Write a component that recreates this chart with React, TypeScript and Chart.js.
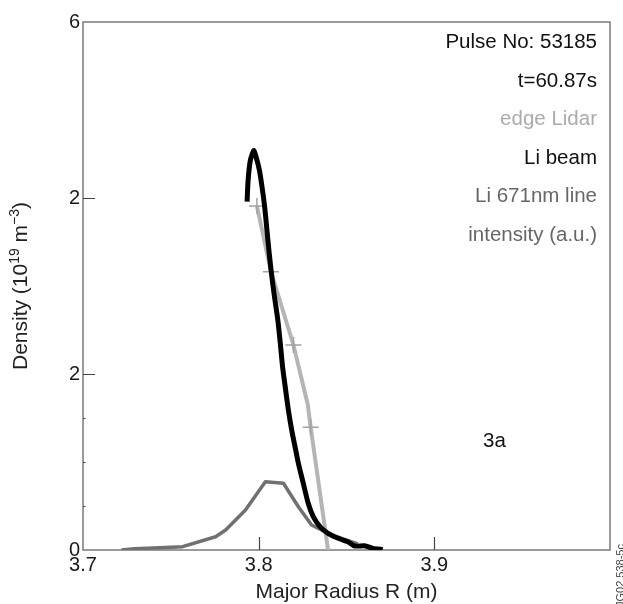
import { useEffect, useRef } from 'react';
import { Chart, registerables } from 'chart.js';

Chart.register(...registerables);

const FONT = '"Liberation Sans", Arial, Helvetica, sans-serif';

// Li beam density profile (black)
const liBeamR = [3.7934, 3.794, 3.7953, 3.7972, 3.7985, 3.8004, 3.8019, 3.8034, 3.8047, 3.806, 3.8075, 3.809, 3.8109, 3.8123, 3.8136, 3.8151, 3.8169, 3.8188, 3.8207, 3.8226, 3.8254, 3.8282, 3.8311, 3.8349, 3.8395, 3.8452, 3.8508, 3.8546, 3.8603, 3.865, 3.8706];
const liBeamD = [3.958, 4.205, 4.432, 4.538, 4.469, 4.318, 4.128, 3.901, 3.636, 3.372, 3.106, 2.878, 2.614, 2.352, 2.083, 1.856, 1.591, 1.364, 1.174, 0.985, 0.758, 0.531, 0.378, 0.265, 0.19, 0.133, 0.094, 0.045, 0.049, 0.019, 0.005];

// Edge Lidar profile (light grey) with measurement markers
const lidarR = [3.799, 3.807, 3.8198, 3.828, 3.8296, 3.8395];
const lidarD = [3.909, 3.163, 2.33, 1.648, 1.394, 0.0];
const lidarMarker = [true, true, true, false, true, false];

// Li 671nm line intensity (dark grey, a.u.)
const lineR = [3.7219, 3.7294, 3.7435, 3.7567, 3.7755, 3.7812, 3.7925, 3.8038, 3.8141, 3.8226, 3.8301, 3.8395, 3.848, 3.8565];
const lineD = [0.0, 0.015, 0.026, 0.038, 0.151, 0.227, 0.455, 0.776, 0.758, 0.492, 0.284, 0.19, 0.125, 0.068];

const xTicks = [3.7, 3.8, 3.9];
const xTickLabels = ['3.7', '3.8', '3.9'];
const yTicks = [0, 2, 4, 6];
const yTickLabels = ['0', '2', '2', '6'];
const yMinorTicks = [0.5, 1, 1.5];

const legendTexts = ['Pulse No: 53185', 't=60.87s', 'edge Lidar', 'Li beam', 'Li 671nm line', 'intensity (a.u.)'];
const legendColors = ['#111', '#111', '#ababab', '#111', '#666', '#666'];

const frame = {
  id: 'frame',
  beforeDatasetsDraw(chart: any) {
    const { ctx, chartArea: a, scales } = chart;
    const x = scales.x;
    const y = scales.y;
    ctx.save();
    ctx.strokeStyle = '#7a7a7a';
    ctx.lineWidth = 1.5;
    ctx.strokeRect(a.left, a.top, a.right - a.left, a.bottom - a.top);
    ctx.strokeStyle = '#444';
    ctx.lineWidth = 1.2;
    ctx.beginPath();
    xTicks.forEach((v) => {
      if (v === x.min) return;
      const px = Math.round(x.getPixelForValue(v)) + 0.5;
      ctx.moveTo(px, a.bottom);
      ctx.lineTo(px, a.bottom - 13);
    });
    yTicks.forEach((v) => {
      if (v === y.min || v === y.max) return;
      const py = Math.round(y.getPixelForValue(v)) + 0.5;
      ctx.moveTo(a.left, py);
      ctx.lineTo(a.left + 12, py);
    });
    yMinorTicks.forEach((v) => {
      const py = Math.round(y.getPixelForValue(v)) + 0.5;
      ctx.moveTo(a.left, py);
      ctx.lineTo(a.left + 2.5, py);
    });
    ctx.stroke();
    ctx.restore();
  },
  afterDraw(chart: any) {
    const { ctx, chartArea: a } = chart;
    ctx.save();
    // legend / annotation block
    ctx.font = `20.5px ${FONT}`;
    ctx.textAlign = 'right';
    ctx.textBaseline = 'alphabetic';
    legendTexts.forEach((t, i) => {
      ctx.fillStyle = legendColors[i];
      ctx.fillText(t, 597, 48 + i * 38.5);
    });
    // panel label
    ctx.textAlign = 'left';
    ctx.fillStyle = '#111';
    ctx.fillText('3a', 483, 447);
    // x axis title
    ctx.font = `21px ${FONT}`;
    ctx.textAlign = 'center';
    ctx.fillStyle = '#222';
    ctx.fillText('Major Radius R (m)', (a.left + a.right) / 2, 598);
    // y axis title with superscripts
    const parts: [string, boolean][] = [
      ['Density (10', false],
      ['19', true],
      [' m', false],
      ['\u22123', true],
      [')', false],
    ];
    const big = `21px ${FONT}`;
    const small = `14px ${FONT}`;
    let total = 0;
    parts.forEach(([t, sup]) => {
      ctx.font = sup ? small : big;
      total += ctx.measureText(t).width;
    });
    ctx.translate(27, (a.top + a.bottom) / 2);
    ctx.rotate(-Math.PI / 2);
    ctx.textAlign = 'left';
    let cx = -total / 2;
    parts.forEach(([t, sup]) => {
      ctx.font = sup ? small : big;
      ctx.fillText(t, cx, sup ? -8 : 0);
      cx += ctx.measureText(t).width;
    });
    ctx.restore();
    // figure code
    ctx.save();
    ctx.translate(624, 607);
    ctx.rotate(-Math.PI / 2);
    ctx.font = `11px ${FONT}`;
    ctx.fillStyle = '#444';
    ctx.textAlign = 'left';
    ctx.fillText('JG02.538-5c', 0, 0);
    ctx.restore();
  },
};

export default function App() {
  const ref = useRef<HTMLCanvasElement | null>(null);
  useEffect(() => {
    if (!ref.current) return;
    const chart = new Chart(ref.current, {
      type: 'scatter',
      data: {
        datasets: [
          {
            data: liBeamR.map((r, i) => ({ x: r, y: liBeamD[i] })),
            showLine: true,
            borderColor: '#000',
            borderWidth: 5,
            pointRadius: 0,
            tension: 0.2,
            borderJoinStyle: 'round',
          },
          {
            data: lidarR.map((r, i) => ({ x: r, y: lidarD[i] })),
            showLine: true,
            borderColor: '#b5b5b5',
            borderWidth: 4,
            pointStyle: 'cross',
            pointRadius: lidarMarker.map((m) => (m ? 8 : 0)),
            pointBorderColor: '#a3a3a3',
            pointBorderWidth: 1.5,
            pointBackgroundColor: '#a3a3a3',
            tension: 0,
          },
          {
            data: lineR.map((r, i) => ({ x: r, y: lineD[i] })),
            showLine: true,
            borderColor: '#707070',
            borderWidth: 3.5,
            pointRadius: 0,
            tension: 0,
            borderJoinStyle: 'round',
          },
        ],
      } as any,
      options: {
        animation: false,
        responsive: false,
        events: [],
        layout: { padding: { top: 22, right: 13, left: 0, bottom: 0 } },
        plugins: { legend: { display: false }, tooltip: { enabled: false } },
        scales: {
          x: {
            type: 'linear',
            min: 3.7,
            max: 4.0,
            afterBuildTicks: (s: any) => {
              s.ticks = xTicks.map((v) => ({ value: v }));
            },
            afterFit: (s: any) => {
              s.height = 54;
            },
            ticks: {
              callback: (_v: any, i: number) => xTickLabels[i],
              font: { size: 20, family: FONT },
              color: '#1a1a1a',
              padding: 3,
              maxRotation: 0,
              autoSkip: false,
            },
            grid: { display: false, drawTicks: false },
            border: { display: false },
          },
          y: {
            type: 'linear',
            min: 0,
            max: 6,
            afterBuildTicks: (s: any) => {
              s.ticks = yTicks.map((v) => ({ value: v }));
            },
            afterFit: (s: any) => {
              s.width = 83;
            },
            ticks: {
              callback: (_v: any, i: number) => yTickLabels[i],
              font: { size: 20, family: FONT },
              color: '#1a1a1a',
              padding: 3,
              autoSkip: false,
            },
            grid: { display: false, drawTicks: false },
            border: { display: false },
          },
        },
      } as any,
      plugins: [frame],
    });
    return () => chart.destroy();
  }, []);
  return (
    <div style={{ position: 'absolute', left: 0, top: 0, width: 623, height: 604, background: '#fff' }}>
      <canvas ref={ref} width={623} height={604} style={{ display: 'block' }} />
    </div>
  );
}
